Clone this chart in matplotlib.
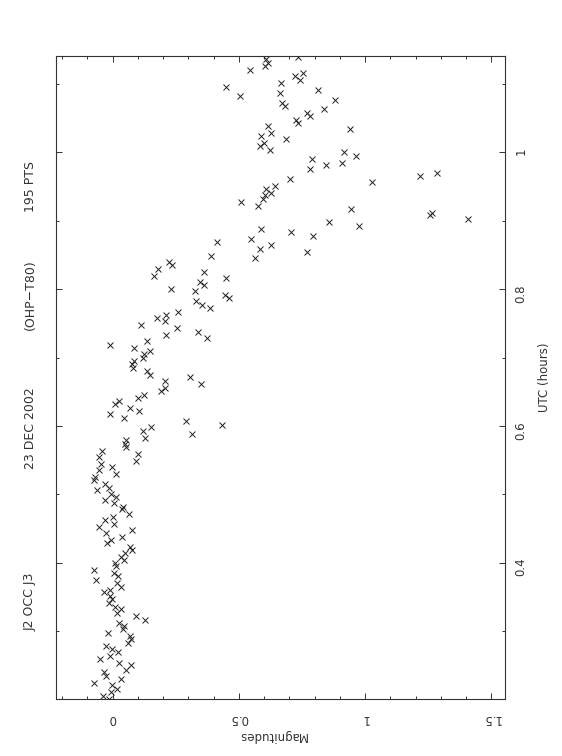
"""
J2 occultation of J3, 23 Dec 2002 (OHP-T80) - light curve, drawn in portrait
"""

import matplotlib
matplotlib.use("Agg")
import matplotlib.pyplot as plt
from matplotlib.ticker import MultipleLocator, FuncFormatter

plt.rcParams['font.family'] = ['DejaVu Sans']

# Points, top (late) to bottom (early), in six bands
MAG_1 = [0.735, 0.609, 0.617, 0.603, 0.546, 0.755, 0.724, 0.741, 0.668, 0.451, 0.814,
         0.662, 0.504, 0.881, 0.672, 0.685, 0.838, 0.770, 0.784, 0.728, 0.736, 0.617,
         0.941, 0.629, 0.587, 0.689, 0.600, 0.583, 0.625, 0.917, 0.963, 0.790]
UTC_1 = [1.140, 1.136, 1.131, 1.126, 1.121, 1.116, 1.111, 1.106, 1.102, 1.096, 1.091,
         1.087, 1.082, 1.077, 1.072, 1.068, 1.063, 1.058, 1.053, 1.048, 1.043, 1.038,
         1.034, 1.029, 1.024, 1.019, 1.014, 1.009, 1.004, 1.000, 0.995, 0.990]

MAG_2 = [0.908, 0.846, 0.781, 1.284, 1.219, 0.702, 1.028, 0.642, 0.609, 0.628, 0.604,
         0.596, 0.508, 0.578, 0.943, 1.266, 1.257, 1.406, 0.858, 0.976, 0.590, 0.708,
         0.794, 0.550, 0.413, 0.627, 0.583, 0.770, 0.391, 0.565, 0.222]
UTC_2 = [0.985, 0.981, 0.975, 0.970, 0.965, 0.961, 0.956, 0.951, 0.946, 0.941, 0.937,
         0.932, 0.927, 0.922, 0.917, 0.912, 0.908, 0.903, 0.898, 0.893, 0.888, 0.883,
         0.878, 0.874, 0.869, 0.864, 0.859, 0.854, 0.849, 0.845, 0.840]

MAG_3 = [0.236, 0.179, 0.363, 0.164, 0.450, 0.348, 0.363, 0.231, 0.327, 0.445, 0.462,
         0.332, 0.355, 0.388, 0.259, 0.212, 0.178, 0.206, 0.111, 0.257, 0.339, 0.211,
         0.373, 0.136, -0.011, 0.086, 0.149, 0.124, 0.121, 0.086, 0.078, 0.082]
UTC_3 = [0.835, 0.830, 0.825, 0.820, 0.816, 0.811, 0.806, 0.801, 0.797, 0.792, 0.787,
         0.782, 0.777, 0.772, 0.767, 0.762, 0.758, 0.753, 0.748, 0.743, 0.738, 0.733,
         0.728, 0.724, 0.719, 0.714, 0.709, 0.705, 0.700, 0.695, 0.690, 0.685]

MAG_4 = [0.136, 0.150, 0.305, 0.206, 0.351, 0.208, 0.193, 0.123, 0.102, 0.024, 0.011,
         0.071, 0.106, -0.009, 0.044, 0.292, 0.435, 0.154, 0.121, 0.315, 0.127, 0.055,
         0.049, 0.053, -0.042, 0.100, -0.054, 0.094, -0.045, -0.004, -0.054, 0.015]
UTC_4 = [0.680, 0.675, 0.671, 0.666, 0.661, 0.656, 0.651, 0.646, 0.641, 0.637, 0.632,
         0.627, 0.622, 0.617, 0.612, 0.607, 0.602, 0.598, 0.593, 0.588, 0.583, 0.579,
         0.574, 0.569, 0.564, 0.559, 0.554, 0.549, 0.544, 0.540, 0.535, 0.530]

MAG_5 = [-0.069, -0.073, -0.028, -0.015, -0.063, -0.005, 0.015, -0.029, 0.004, 0.042,
         0.038, 0.066, 0.003, -0.029, 0.004, -0.053, 0.077, -0.024, 0.037, -0.007,
         -0.020, 0.070, 0.078, 0.049, 0.034, 0.046, 0.011, 0.012, -0.075, 0.005, 0.022,
         -0.066, 0.018]
UTC_5 = [0.525, 0.521, 0.515, 0.510, 0.506, 0.501, 0.496, 0.492, 0.487, 0.482, 0.478,
         0.472, 0.467, 0.463, 0.457, 0.453, 0.448, 0.443, 0.438, 0.434, 0.429, 0.423,
         0.419, 0.414, 0.409, 0.404, 0.400, 0.396, 0.389, 0.385, 0.381, 0.375, 0.371]

MAG_6 = [0.033, -0.009, -0.032, -0.009, -0.001, -0.013, 0.009, 0.032, 0.017, 0.094,
         0.129, 0.024, 0.046, 0.042, -0.017, 0.070, 0.073, 0.062, -0.026, -0.003, 0.022,
         -0.011, -0.050, 0.026, 0.075, 0.055, -0.032, -0.024, 0.032, -0.075, -0.004,
         0.017, -0.005, -0.037, -0.015]
UTC_6 = [0.365, 0.361, 0.357, 0.351, 0.347, 0.341, 0.336, 0.332, 0.327, 0.322, 0.317,
         0.312, 0.308, 0.303, 0.298, 0.293, 0.289, 0.283, 0.278, 0.274, 0.269, 0.264,
         0.259, 0.254, 0.250, 0.244, 0.240, 0.235, 0.230, 0.225, 0.221, 0.216, 0.211,
         0.206, 0.201]

TITLE_PARTS = ["J2 OCC J3", "23 DEC 2002", "(OHP\u2212T80)", "195 PTS"]

mags = MAG_1 + MAG_2 + MAG_3 + MAG_4 + MAG_5 + MAG_6
utcs = UTC_1 + UTC_2 + UTC_3 + UTC_4 + UTC_5 + UTC_6

fig = plt.figure(figsize=(5.62, 7.56), dpi=100)
ax = fig.add_axes([0.100, 0.075, 0.798, 0.8515])

ax.plot(mags, utcs, 'x', color='#222222', markersize=3.8, markeredgewidth=0.7)

ax.set_xlim(-0.223, 1.553)
ax.set_ylim(0.2005, 1.1415)

ax.xaxis.set_major_locator(MultipleLocator(0.5))
ax.xaxis.set_minor_locator(MultipleLocator(0.1))
ax.yaxis.set_major_locator(MultipleLocator(0.2))
ax.yaxis.set_minor_locator(MultipleLocator(0.1))
fmt = FuncFormatter(lambda v, pos: "%g" % round(v, 3))
ax.xaxis.set_major_formatter(fmt)
ax.yaxis.set_major_formatter(fmt)

for side in ax.spines.values():
    side.set_linewidth(0.8)
    side.set_color('#333333')
ax.tick_params(which='both', direction='in', top=True, bottom=True, left=True,
               right=True, color='#333333', width=0.7)
ax.tick_params(which='major', length=4.5)
ax.tick_params(which='minor', length=2.3)
ax.tick_params(axis='x', labelrotation=180, pad=9, labelsize=8.5, labelcolor='#333333')
ax.tick_params(axis='y', labelleft=False, labelright=True, labelrotation=90, pad=7,
               labelsize=8.5, labelcolor='#333333')

# axis labels, turned with the page
ax.text(0.483, -0.0555, "Magnitudes", transform=ax.transAxes, rotation=180,
        ha='center', va='center', fontsize=8.5, color='#333333')
ax.text(1.089, 0.5, "UTC (hours)", transform=ax.transAxes, rotation=90,
        ha='center', va='center', fontsize=8.5, color='#333333')

# title along the left edge
for part, y in zip(TITLE_PARTS, [602, 428, 295, 186]):
    fig.text(30 / 562, 1 - y / 756, part, rotation=90, ha='center', va='center',
             fontsize=9, color='#333333')

fig.savefig("out.png", dpi=100)
